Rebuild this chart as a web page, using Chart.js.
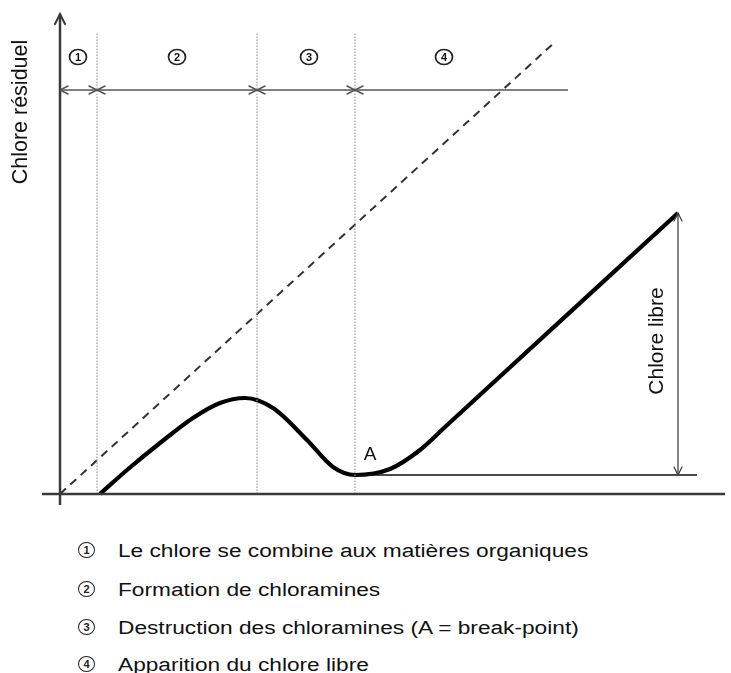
<!DOCTYPE html>
<html>
<head>
<meta charset="utf-8">
<script src="https://cdn.jsdelivr.net/npm/chart.js@4/dist/chart.umd.min.js"></script>
<style>
  html, body { margin: 0; padding: 0; background: #fff; }
  body { width: 731px; height: 673px; position: relative; overflow: hidden; font-family: 'Liberation Sans', Arial, sans-serif; }
  #wrap { position: absolute; left: 0; top: 0; width: 731px; height: 520px; }
  .leg { position: absolute; left: 78px; font-size: 18px; color: #111; white-space: nowrap; line-height: 20px; }
  .leg .num { position: absolute; left: 0; top: 1px; width: 15px; height: 14px; border: 1.6px solid #222; border-radius: 50%;
              font-size: 11px; font-weight: bold; line-height: 14px; text-align: center; color: #222; }
  .leg .txt { position: absolute; left: 40px; top: 0; transform: scaleX(1.26); transform-origin: left center; }
</style>
</head>
<body>
<div id="wrap"><canvas id="chart" width="731" height="520"></canvas></div>
<div id="legend"></div>
<script>
// units: dose de chlore (x) / chlore résiduel (y), arbitrary
const curveX = [4.0, 6.7, 10.0, 13.3, 16.0, 18.5, 21.3, 24.7, 27.3, 29.5, 33.0, 36.0, 38.5, 61.8];
const curveY = [0.0, 2.4, 5.1, 7.6, 9.1, 9.6, 8.6, 5.4, 2.7, 1.9, 2.5, 4.4, 6.7, 28.1];
const dashX = [0, 49.5];
const dashY = [0, 45.2];
const zoneBounds = [3.7, 19.7, 29.5];
const zoneTop = 46.1;
const spanY = 40.4;
const spanEnd = 50.8;
const zoneLabels = ['1', '2', '3', '4'];
const zoneLabelX = [1.8, 11.7, 24.9, 38.4];
const zoneLabelY = 43.7;
const breakPoint = [29.5, 1.9];
const freeEnd = [61.8, 28.1];
const baseEnd = 63.7;
const axisX = [-1.8, 66.5];
const axisY = [-1.1, 48.0];
const legendItems = [
  'Le chlore se combine aux matières organiques',
  'Formation de chloramines',
  'Destruction des chloramines (A = break-point)',
  'Apparition du chlore libre'
];

const pts = (xs, ys) => xs.map((x, i) => ({ x, y: ys[i] }));

const datasets = [];
// axes
datasets.push({ data: [{ x: axisX[0], y: 0 }, { x: axisX[1], y: 0 }], borderColor: '#3a3a3a', borderWidth: 2.5 });
datasets.push({ data: [{ x: 0, y: axisY[0] }, { x: 0, y: axisY[1] }], borderColor: '#3a3a3a', borderWidth: 2.5 });
// zone boundaries (dotted)
zoneBounds.forEach((b) => {
  datasets.push({ data: [{ x: b, y: 0 }, { x: b, y: zoneTop }], borderColor: '#9a9a9a', borderWidth: 1.2, borderDash: [1.5, 1.5] });
});
// span line at top
datasets.push({ data: [{ x: 0, y: spanY }, { x: spanEnd, y: spanY }], borderColor: '#555', borderWidth: 1.6 });
// dashed reference line
datasets.push({ data: pts(dashX, dashY), borderColor: '#333', borderWidth: 2, borderDash: [8, 6] });
// base line from break-point
datasets.push({ data: [{ x: breakPoint[0], y: breakPoint[1] }, { x: baseEnd, y: breakPoint[1] }], borderColor: '#111', borderWidth: 1.6 });
// chlore libre arrow
datasets.push({ data: [{ x: freeEnd[0], y: breakPoint[1] }, { x: freeEnd[0], y: freeEnd[1] }], borderColor: '#444', borderWidth: 1.3 });
// main curve
datasets.push({ data: pts(curveX, curveY), borderColor: '#000', borderWidth: 4.2, cubicInterpolationMode: 'monotone' });

datasets.forEach((d) => {
  d.showLine = true;
  d.pointRadius = 0;
  d.fill = false;
  d.clip = false;
});

function arrow(ctx, x, y, dx, dy, len, half) {
  // open arrowhead with tip at (x,y) pointing in direction (dx,dy)
  const px = -dy, py = dx;
  ctx.beginPath();
  ctx.moveTo(x - dx * len + px * half, y - dy * len + py * half);
  ctx.lineTo(x, y);
  ctx.lineTo(x - dx * len - px * half, y - dy * len - py * half);
  ctx.stroke();
}

const annotations = {
  id: 'annotations',
  afterDatasetsDraw(chart) {
    const { ctx, scales } = chart;
    const X = (v) => scales.x.getPixelForValue(v);
    const Y = (v) => scales.y.getPixelForValue(v);
    ctx.save();
    ctx.lineCap = 'round';
    // y axis arrowhead
    ctx.strokeStyle = '#3a3a3a';
    ctx.lineWidth = 2;
    arrow(ctx, X(0), Y(axisY[1]), 0, -1, 10, 5);
    // span arrows
    ctx.strokeStyle = '#555';
    ctx.lineWidth = 1.5;
    const sy = Y(spanY);
    arrow(ctx, X(0), sy, -1, 0, 8, 4);
    zoneBounds.forEach((b) => {
      arrow(ctx, X(b), sy, 1, 0, 8, 4);
      arrow(ctx, X(b), sy, -1, 0, 8, 4);
    });
    // chlore libre arrows
    ctx.strokeStyle = '#444';
    ctx.lineWidth = 1.3;
    arrow(ctx, X(freeEnd[0]), Y(freeEnd[1]), 0, -1, 8, 4);
    arrow(ctx, X(freeEnd[0]), Y(breakPoint[1]), 0, 1, 8, 4);
    // zone numbers (circled)
    ctx.fillStyle = '#111';
    ctx.strokeStyle = '#222';
    ctx.lineWidth = 1.7;
    ctx.textAlign = 'center';
    ctx.textBaseline = 'middle';
    ctx.font = 'bold 11px "Liberation Sans", Arial, sans-serif';
    zoneLabels.forEach((t, i) => {
      const cx = X(zoneLabelX[i]), cy = Y(zoneLabelY);
      ctx.beginPath();
      ctx.ellipse(cx, cy, 8.5, 7.5, 0, 0, Math.PI * 2);
      ctx.stroke();
      ctx.fillText(t, cx, cy + 0.5);
    });
    // A
    ctx.font = '19px "Liberation Sans", Arial, sans-serif';
    ctx.fillText('A', X(31.0), Y(3.9));
    // rotated labels
    ctx.font = '21.5px "Liberation Sans", Arial, sans-serif';
    ctx.save();
    ctx.translate(X(-3.9), Y(38.2));
    ctx.rotate(-Math.PI / 2);
    ctx.fillText('Chlore résiduel', 0, 0);
    ctx.restore();
    ctx.font = '21px "Liberation Sans", Arial, sans-serif';
    ctx.save();
    ctx.translate(X(59.7), Y(15.3));
    ctx.rotate(-Math.PI / 2);
    ctx.fillText('Chlore libre', 0, 0);
    ctx.restore();
    ctx.restore();
  }
};

new Chart(document.getElementById('chart').getContext('2d'), {
  type: 'scatter',
  data: { datasets },
  options: {
    responsive: false,
    animation: false,
    layout: { padding: 0 },
    plugins: { legend: { display: false }, tooltip: { enabled: false } },
    scales: {
      x: { type: 'linear', display: false, min: -6, max: 67.1 },
      y: { type: 'linear', display: false, min: -2.6, max: 49.4 }
    }
  },
  plugins: [annotations]
});

const legendTops = [541, 580, 618, 655];
const legendEl = document.getElementById('legend');
legendItems.forEach((t, i) => {
  const row = document.createElement('div');
  row.className = 'leg';
  row.style.top = legendTops[i] + 'px';
  const n = document.createElement('span');
  n.className = 'num';
  n.textContent = zoneLabels[i];
  const s = document.createElement('span');
  s.className = 'txt';
  s.textContent = t;
  row.appendChild(n);
  row.appendChild(s);
  legendEl.appendChild(row);
});
</script>
</body>
</html>
